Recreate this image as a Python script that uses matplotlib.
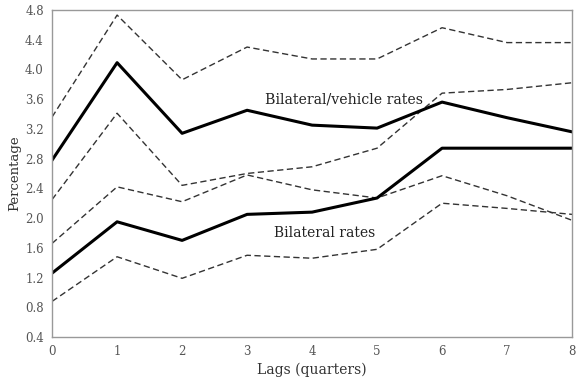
import matplotlib
matplotlib.use('Agg')
import matplotlib.pyplot as plt
import numpy as np

lags = np.arange(9)

# bilateral/vehicle rates: estimate and band
veh_mid = [2.78, 4.09, 3.14, 3.45, 3.25, 3.21, 3.56, 3.35, 3.16]
veh_hi = [3.36, 4.73, 3.86, 4.30, 4.14, 4.14, 4.56, 4.36, 4.36]
veh_lo = [2.25, 3.41, 2.44, 2.60, 2.69, 2.94, 3.68, 3.73, 3.82]

# bilateral rates: estimate and band
bil_mid = [1.26, 1.95, 1.70, 2.05, 2.08, 2.27, 2.94, 2.94, 2.94]
bil_hi = [1.66, 2.42, 2.22, 2.58, 2.38, 2.27, 2.57, 2.30, 1.97]
bil_lo = [0.88, 1.48, 1.19, 1.50, 1.46, 1.58, 2.20, 2.13, 2.05]

yticks = np.arange(0.4, 4.81, 0.4)

plt.rcParams['font.family'] = ['DejaVu Serif']

fig = plt.figure(figsize=(5.79, 3.80), dpi=100)
ax = fig.add_axes([0.09, 0.113, 0.898, 0.861])

dash = dict(color='#333333', lw=1.0, dashes=(4.5, 2.5))
for s in (veh_hi, veh_lo, bil_hi, bil_lo):
    ax.plot(lags, s, **dash)
ax.plot(lags, veh_mid, color='black', lw=2.2)
ax.plot(lags, bil_mid, color='black', lw=2.2)

ax.text(4.49, 3.60, 'Bilateral/vehicle rates', ha='center', va='center',
        fontsize=10.2, color='#222222')
ax.text(4.19, 1.80, 'Bilateral rates', ha='center', va='center',
        fontsize=10, color='#222222')

ax.set_xlim(0, 8)
ax.set_ylim(0.4, 4.8)
ax.set_xticks(lags)
ax.set_yticks(yticks)
ax.set_yticklabels([f'{v:.1f}' for v in yticks])
ax.tick_params(length=0, labelsize=8.5, colors='#555555', pad=6)
for sp in ax.spines.values():
    sp.set_color('#999999')
    sp.set_linewidth(1.0)

ax.set_xlabel('Lags (quarters)', fontsize=10, color='#333333', labelpad=3)
ax.set_ylabel('Percentage', fontsize=9.5, color='#333333', labelpad=3)

fig.savefig('out.png', dpi=100)
